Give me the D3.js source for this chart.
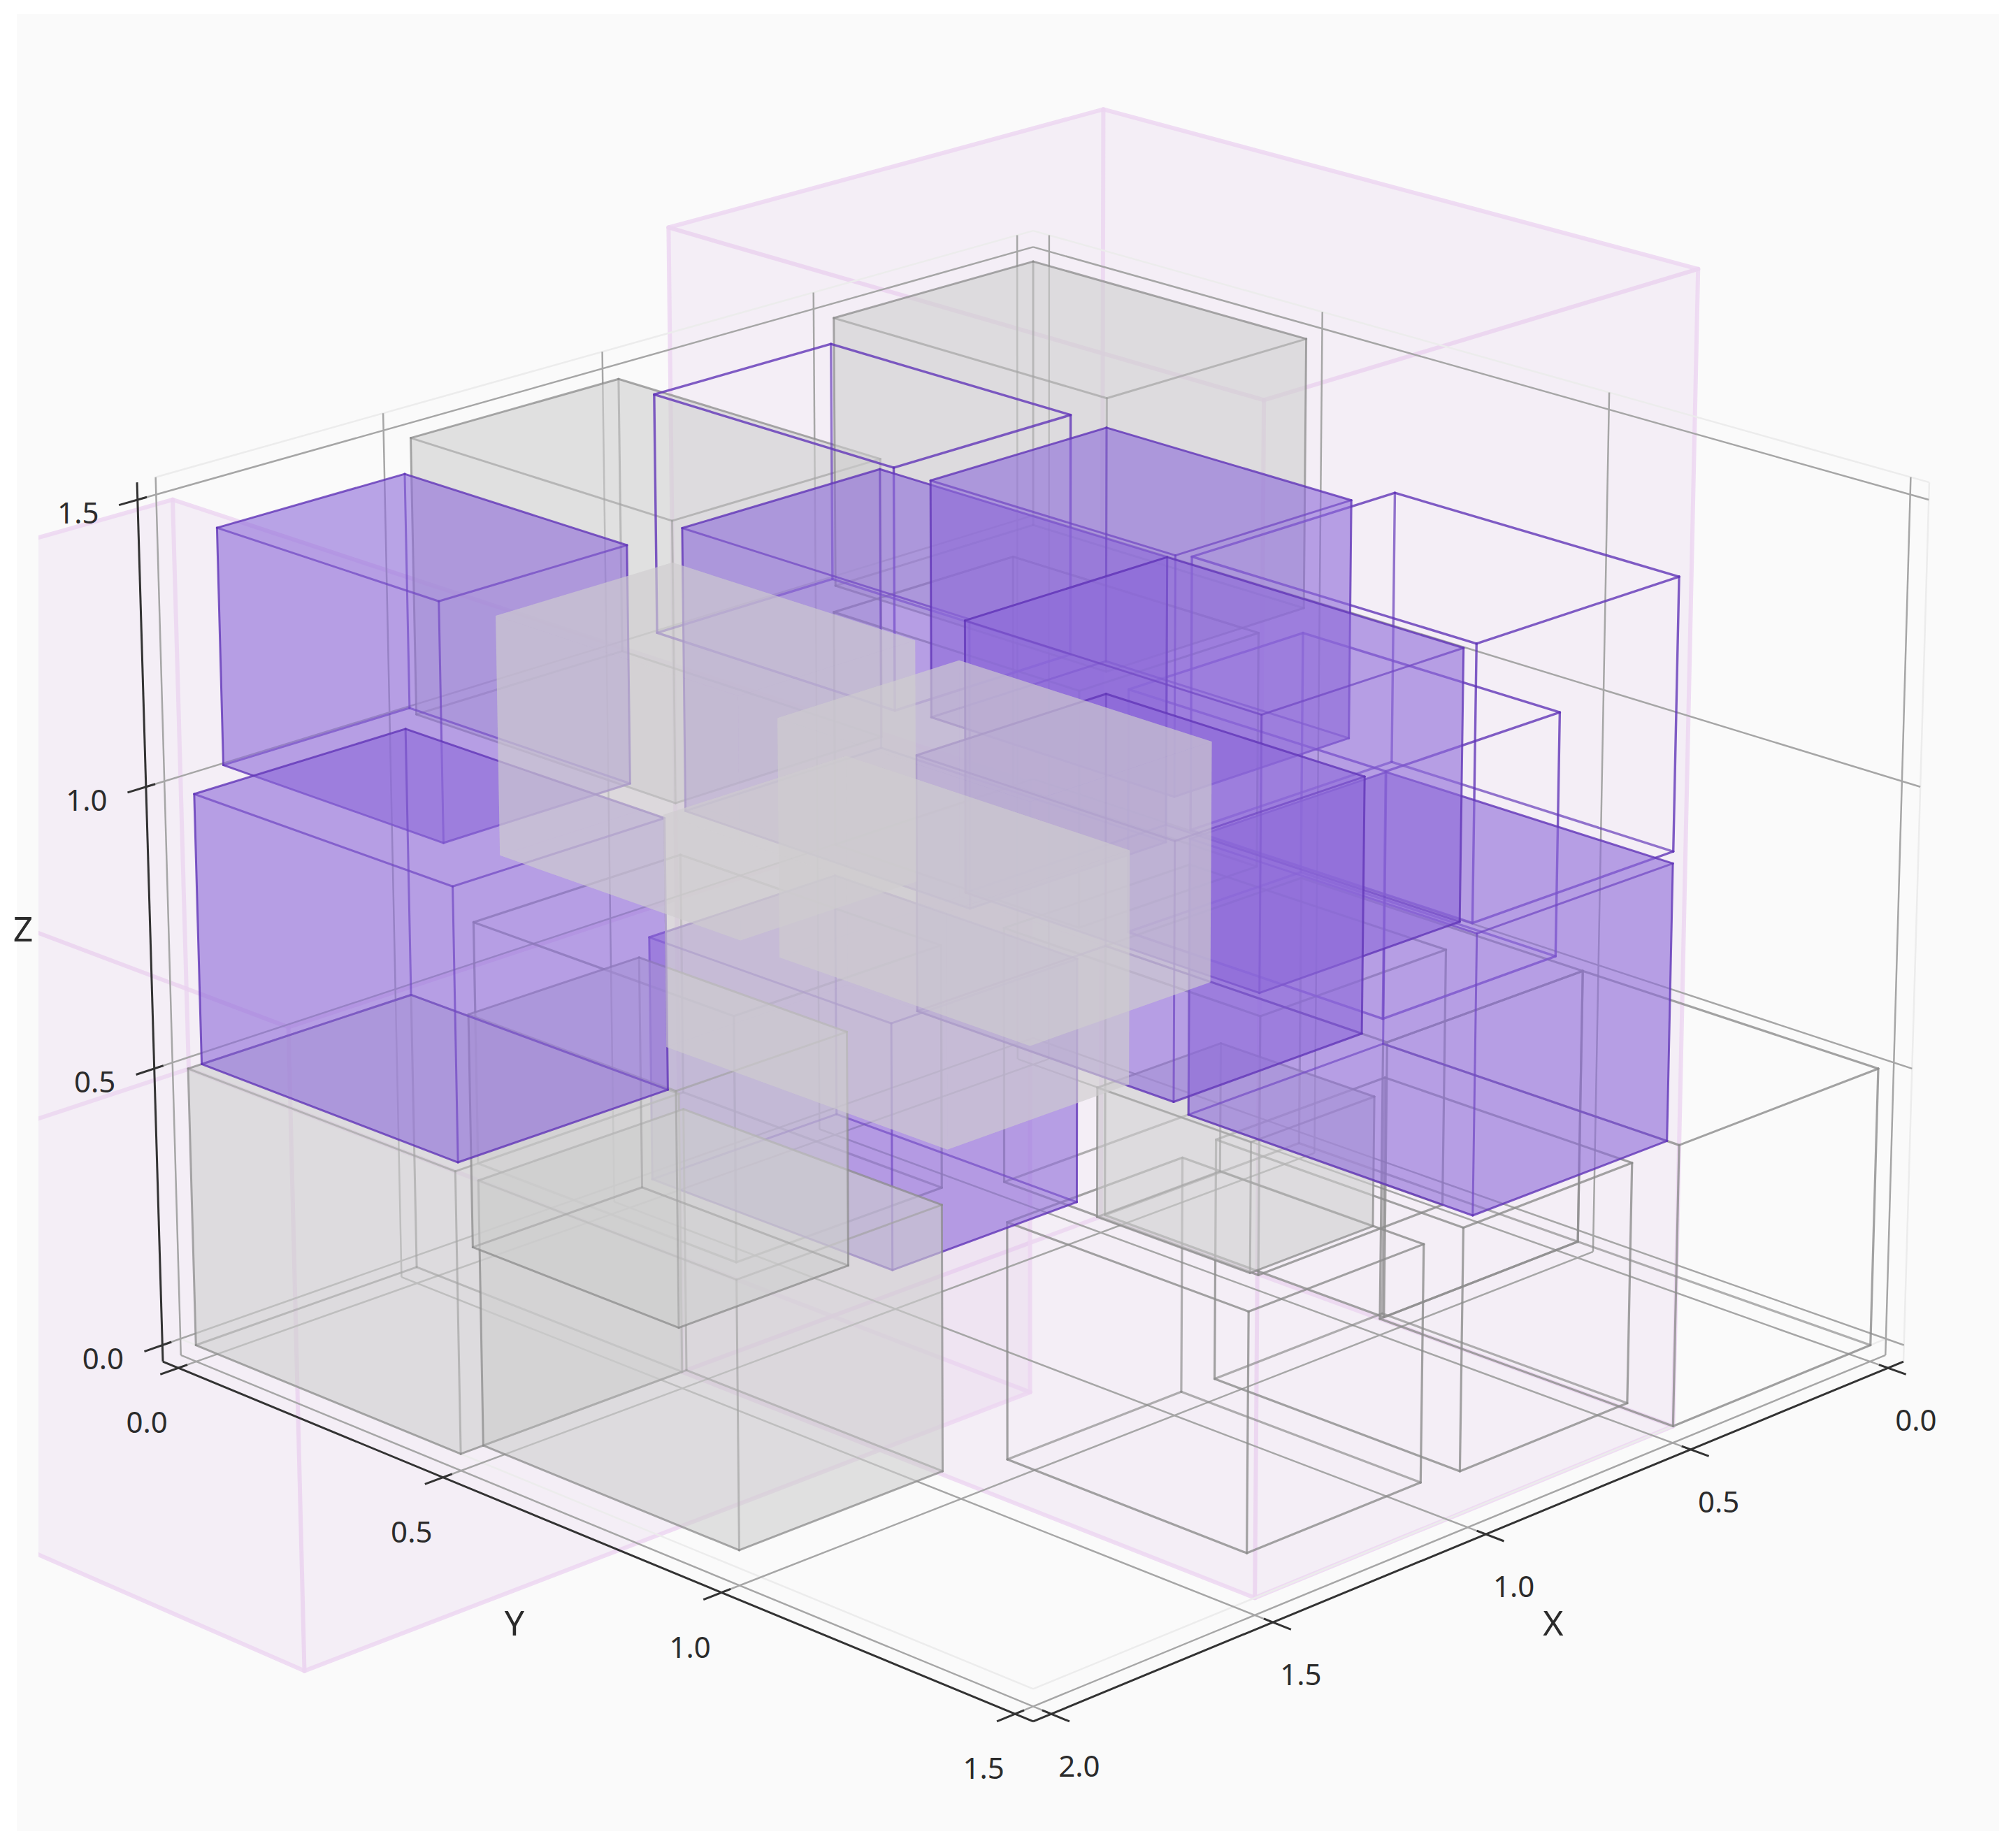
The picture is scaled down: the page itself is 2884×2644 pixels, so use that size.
<!doctype html>
<html>
<head>
<meta charset="utf-8"/>
<title>3D boxes</title>
<script src="https://d3js.org/d3.v7.min.js"></script>
<style>
  html, body { margin: 0; background: #fff; }
  text { font-family: "Noto Sans", sans-serif; fill: #2b2b2b; text-anchor: middle; }
</style>
</head>
<body>
<script type="text/javascript">
// tick labels
var xTicks = [0, 0.5, 1.0, 1.5, 2.0];
var yTicks = [0, 0.5, 1.0, 1.5];
var zTicks = [0, 0.5, 1.0, 1.5];

// boxes: [x0, x1, y0, y1, z0, z1]
var pinkBoxes = [
  [0.5, 1.5, 0.5, 1.5, 0, 2],
  [1.15, 2.76, -0.755, 0.857, 0, 1.08]
];
var grayUpper = [
  [1.0, 1.475, 0, 0.48, 1.0, 1.49],
  [0, 0.49, 0, 0.5, 1.0, 1.49]
];
var purpleLow = [
  [1.38, 1.797, 0.69, 1.11, 0.5, 0.92]
];
var grayLower = [
  [1.5, 2.0, 0, 0.5, 0, 0.5],
  [1.49, 1.95, 0.5, 0.96, 0, 0.47],
  [0.97, 1.37, 0, 0.39, 0, 0.43],
  [0.52, 0.82, 0.73, 1.0, 0.175, 0.41]
];
var grayOutline = [
  [0.97, 1.38, 0.99, 1.40, 0, 0.42],
  [0.48, 0.89, 0.99, 1.41, 0, 0.43],
  [0, 0.5, 1.0, 1.5, 0, 0.5],
  [0, 0.49, 0.5, 1.0, 0, 0.5],
  [1.49, 1.95, 0.5, 0.96, 0.5, 0.92],
  [0.97, 1.4, 1.0, 1.43, 0.5, 0.94],
  [1.02, 1.43, 0.73, 1.15, 1.0, 1.4]
];
var purpleFilled = [
  [1.49, 1.905, 0, 0.41, 1.015, 1.43],
  [1.5, 1.97, 0, 0.48, 0.5, 0.98],
  [1.04, 1.49, 0.51, 1.01, 1.0, 1.49],
  [0.45, 0.87, 0.47, 0.9, 1.0, 1.42],
  [0.5, 0.97, 1.0, 1.48, 0.5, 0.985],
  [1.04, 1.5, 1.01, 1.5, 1.03, 1.49],
  [0.49, 0.945, 0.5, 0.956, 0.5, 0.96]
];
var purpleOutline = [
  [0.51, 0.93, 0.01, 0.45, 1.02, 1.45],
  [0.53, 1.01, 1.03, 1.5, 1.02, 1.49],
  [0.1, 0.53, 0.57, 1.02, 0.56, 1.0]
];
var paleBoxes = [
  [1.5, 1.89, 0.5, 0.925, 1.02, 1.43],
  [1.5, 1.9, 1.0, 1.42, 1.02, 1.42],
  [1.07, 1.49, 0.47, 0.97, 0.57, 0.98]
];

var W = 2884, H = 2644;
var svg = d3.select("body").append("svg").attr("width", W).attr("height", H);

// axis limits with 2% padding, scaled into the unit cube
var xPad = 0.04, yPad = 0.03, zPad = 0.03;
var sx = d3.scaleLinear().domain([-xPad, 2 + xPad]).range([-1, 1]);
var sy = d3.scaleLinear().domain([-yPad, 1.5 + yPad]).range([-1, 1]);
var sz = d3.scaleLinear().domain([-zPad, 1.5 + zPad]).range([-1, 1]);

// camera, worked out from the corners of the frame
var cx = 1478, cy = 1328.3, A = 631.6, B = 628.8, C = 216.6, E = 0.0393, G = 0.01463;
function proj(x, y, z) {
  var u = sx(x), v = sy(y), w = sz(z);
  var d = 1 - E * (u + v) - G * w;
  return [cx + A * (v - u) / d, cy + (C * (u + v) - B * w) / d];
}

svg.append("rect").attr("x", 24).attr("y", 20).attr("width", 2836).attr("height", 2600).attr("fill", "#fafafa");

// only the left side cuts anything off
var clip = svg.append("clipPath").attr("id", "plot");
clip.append("rect").attr("x", 55).attr("y", 20).attr("width", 2805).attr("height", 2600);
var plot = svg.append("g").attr("clip-path", "url(#plot)");

function drawBox(g, b, st) {
  var x0 = b[0], x1 = b[1], y0 = b[2], y1 = b[3], z0 = b[4], z1 = b[5];
  var backFaces = [
    [[x0, y0, z0], [x1, y0, z0], [x1, y1, z0], [x0, y1, z0]],
    [[x0, y0, z0], [x1, y0, z0], [x1, y0, z1], [x0, y0, z1]],
    [[x0, y0, z0], [x0, y1, z0], [x0, y1, z1], [x0, y0, z1]]
  ];
  var frontFaces = [
    [[x0, y0, z1], [x1, y0, z1], [x1, y1, z1], [x0, y1, z1]],
    [[x1, y0, z0], [x1, y1, z0], [x1, y1, z1], [x1, y0, z1]],
    [[x0, y1, z0], [x1, y1, z0], [x1, y1, z1], [x0, y1, z1]]
  ];
  var backEdges = [
    [[x0, y0, z0], [x1, y0, z0]], [[x0, y0, z0], [x0, y1, z0]], [[x0, y0, z0], [x0, y0, z1]]
  ];
  var outerEdges = [
    [[x1, y0, z0], [x1, y1, z0]], [[x0, y1, z0], [x1, y1, z0]],
    [[x1, y0, z0], [x1, y0, z1]], [[x0, y1, z0], [x0, y1, z1]],
    [[x0, y0, z1], [x1, y0, z1]], [[x0, y0, z1], [x0, y1, z1]]
  ];
  // the three edges that meet at the corner nearest the viewer
  var nearEdges = [
    [[x1, y1, z0], [x1, y1, z1]], [[x1, y0, z1], [x1, y1, z1]], [[x0, y1, z1], [x1, y1, z1]]
  ];
  function faces(list) {
    if (!st.fill) return;
    g.selectAll(null).data(list).enter().append("path")
      .attr("d", function(f) { return d3.line().curve(d3.curveLinearClosed)(f.map(function(p) { return proj(p[0], p[1], p[2]); })); })
      .attr("fill", st.fill).attr("fill-opacity", st.alpha).attr("stroke", "none");
  }
  function edges(list, op) {
    if (!st.stroke) return;
    g.selectAll(null).data(list).enter().append("path")
      .attr("d", function(e) { return d3.line()(e.map(function(p) { return proj(p[0], p[1], p[2]); })); })
      .attr("fill", "none").attr("stroke", st.stroke).attr("stroke-width", st.width)
      .attr("stroke-opacity", op).attr("stroke-linejoin", "round").attr("stroke-linecap", "round");
  }
  faces(backFaces);
  edges(backEdges, st.opacity * 0.85);
  edges(nearEdges, st.opacity * st.near);
  faces(frontFaces);
  edges(outerEdges, st.opacity);
}

// pink boxes go first, under the grid
var pinkStyle = { fill: "#d9a9e4", alpha: 0.07, stroke: "#ecd6f1", width: 6, opacity: 0.85, near: 1 };
pinkBoxes.forEach(function(b) { drawBox(plot, b, pinkStyle); });

// grid on the floor and the two back walls
var gridColor = "#a6a6a6", faint = "#ececec";
var xLo = -xPad, xHi = 2 + xPad, yLo = -yPad, yHi = 1.5 + yPad, zLo = -zPad, zHi = 1.5 + zPad;
var grid = plot.append("g").attr("fill", "none").attr("stroke-width", 2.5);

function gl(a, b, col) { grid.append("path").attr("d", d3.line()([proj(a[0], a[1], a[2]), proj(b[0], b[1], b[2])])).attr("stroke", col); }

// faint frame at the limits
gl([2, yLo, zHi], [xLo, yLo, zHi], faint);
gl([xLo, yLo, zHi], [xLo, yHi, zHi], faint);
gl([xLo, yHi, zLo], [xLo, yHi, zHi], faint);
gl([2, yLo, 0], [2, 1.5, 0], faint);
gl([2, 1.5, 0], [xLo, 1.5, 0], faint);

xTicks.forEach(function(t) {
  gl([t, yLo, zLo], [t, yHi, zLo], gridColor);
  gl([t, yLo, zLo], [t, yLo, zHi], gridColor);
});
yTicks.forEach(function(t) {
  gl([xLo, t, zLo], [xHi, t, zLo], gridColor);
  gl([xLo, t, zLo], [xLo, t, zHi], gridColor);
});
zTicks.forEach(function(t) {
  gl([xHi, yLo, t], [xLo, yLo, t], gridColor);
  gl([xLo, yLo, t], [xLo, yHi, t], gridColor);
});

// gray and purple in layers, the pale ones on top
var grayFillStyle = { fill: "#cecece", alpha: 0.37, stroke: "#8c8c8c", width: 3, opacity: 0.75, near: 0.9 };
var grayLineStyle = { stroke: "#8c8c8c", width: 3.2, opacity: 0.8, near: 1 };
var purpleFillStyle = { fill: "#8e69d9", alpha: 0.37, stroke: "#6236b8", width: 3, opacity: 0.8, near: 0.9 };
var purpleLineStyle = { stroke: "#6236b8", width: 3.4, opacity: 0.8, near: 1 };
var paleStyle = { fill: "#d0cecf", alpha: 0.42 };

grayUpper.forEach(function(b) { drawBox(plot, b, grayFillStyle); });
grayOutline.forEach(function(b) { drawBox(plot, b, grayLineStyle); });
purpleLow.forEach(function(b) { drawBox(plot, b, purpleFillStyle); });
grayLower.forEach(function(b) { drawBox(plot, b, grayFillStyle); });
purpleOutline.forEach(function(b) { drawBox(plot, b, purpleLineStyle); });
purpleFilled.forEach(function(b) { drawBox(plot, b, purpleFillStyle); });
paleBoxes.forEach(function(b) { drawBox(plot, b, paleStyle); });

// dark axes and ticks
var axes = plot.append("g").attr("fill", "none").attr("stroke", "#333").attr("stroke-width", 3);
function al(a, b) { axes.append("path").attr("d", d3.line()([proj(a[0], a[1], a[2]), proj(b[0], b[1], b[2])])); }
al([xHi, yLo, zLo], [xHi, yLo, zHi]);
al([xHi, yLo, zLo], [xHi, yHi, zLo]);
al([xLo, yHi, zLo], [xHi, yHi, zLo]);

xTicks.forEach(function(t) { al([t, yHi - 0.015, zLo], [t, yHi + 0.03, zLo]); });
yTicks.forEach(function(t) { al([xHi - 0.02, t, zLo], [xHi + 0.04, t, zLo]); });
zTicks.forEach(function(t) { al([xHi - 0.02, yLo, t], [xHi + 0.04, yLo, t]); });

// tick labels and axis titles
var fmt = d3.format(".1f");
var labels = svg.append("g").attr("font-size", 42);
xTicks.forEach(function(t) {
  var p = proj(t, yHi, zLo);
  labels.append("text").attr("x", p[0] + 40).attr("y", p[1] + 90).text(fmt(t));
});
yTicks.forEach(function(t) {
  var p = proj(xHi, t, zLo);
  labels.append("text").attr("x", p[0] - 45).attr("y", p[1] + 93).text(fmt(t));
});
zTicks.forEach(function(t) {
  var p = proj(xHi, yLo, t);
  labels.append("text").attr("x", p[0] - 85).attr("y", p[1] + 34).text(fmt(t));
});
var titles = svg.append("g").attr("font-size", 50);
titles.append("text").attr("x", 2222).attr("y", 2340).text("X");
titles.append("text").attr("x", 736).attr("y", 2340).text("Y");
titles.append("text").attr("x", 33).attr("y", 1347).text("Z");
</script>
</body>
</html>
